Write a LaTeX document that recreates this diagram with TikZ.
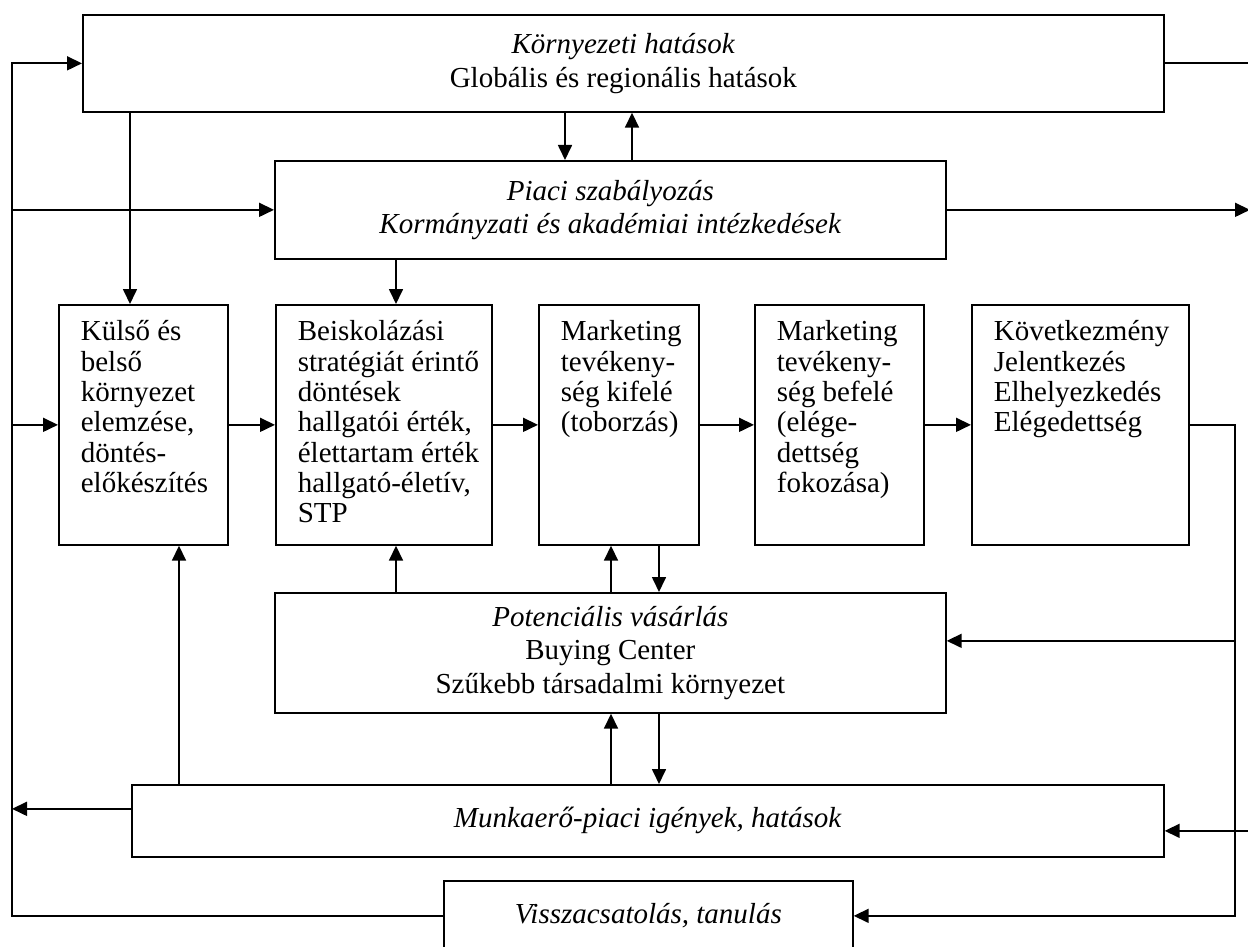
\documentclass[tikz,border=0pt]{standalone}
\usepackage{fontspec}
\setmainfont{Liberation Serif}
\usetikzlibrary{arrows.meta}
\newcommand{\midtext}[2]{\parbox[c][240pt][t]{#1}{\fontsize{29}{30.3}\selectfont\parindent=0pt\leftskip=22pt\rightskip=0pt plus 1fil\rule{0pt}{36pt}#2}}
\begin{document}
\begin{tikzpicture}[x=1pt,y=-1pt,
  box/.style={draw, line width=1.7pt, inner sep=0pt, anchor=north west},
  ctext/.style={align=center, font=\fontsize{29}{33.5}\selectfont},
  arr/.style={line width=1.7pt, -{Triangle[length=15pt,width=14pt]}},
  ln/.style={line width=1.7pt}]
\useasboundingbox (0,0) rectangle (1248,947);
\clip (0,0) rectangle (1248,947);

% boxes
\node[box, ctext, minimum width=1081pt, minimum height=97pt] (env) at (82,14)
  {\textit{Környezeti hatások}\\Globális és regionális hatások};
\node[box, ctext, minimum width=671pt, minimum height=98pt] (piaci) at (274,160)
  {\textit{Piaci szabályozás}\\\textit{Kormányzati és akadémiai intézkedések}};
\node[box] (kulso) at (58,304) {\midtext{169pt}{Külső és\\belső\\környezet\\elemzése,\\döntés-\\előkészítés}};
\node[box] (beisk) at (275,304) {\midtext{216pt}{Beiskolázási\\stratégiát érintő\\döntések\\hallgatói érték,\\élettartam érték\\hallgató-életív,\\STP}};
\node[box] (kifele) at (538,304) {\midtext{160pt}{Marketing\\tevékeny-\\ség kifelé\\(toborzás)}};
\node[box] (befele) at (754,304) {\midtext{169pt}{Marketing\\tevékeny-\\ség befelé\\(elége-\\dettség\\fokozása)}};
\node[box] (kovet) at (971,304) {\midtext{217pt}{Következmény\\Jelentkezés\\Elhelyezkedés\\Elégedettség}};
\node[box, ctext, minimum width=671pt, minimum height=120pt] (pot) at (274,592)
  {\textit{Potenciális vásárlás}\\Buying Center\\Szűkebb társadalmi környezet};
\node[box, ctext, minimum width=1032pt, minimum height=72pt] (munka) at (131,784)
  {\textit{Munkaerő-piaci igények, hatások}};
\node[box, ctext, minimum width=409pt, minimum height=70pt] (visz) at (443,880)
  {\textit{Visszacsatolás, tanulás}};

% helper coordinates
\coordinate (L) at (12,0);
\coordinate (R) at (1235,0);
\coordinate (RR) at (1252,0);
\coordinate (RT) at (1250,0);
\coordinate (a1) at (130,0);
\coordinate (a2) at (396,0);
\coordinate (a3) at (565,0);
\coordinate (a4) at (632,0);
\coordinate (a5) at (611,0);
\coordinate (a6) at (659,0);
\coordinate (a7) at (179,0);
\coordinate (mw) at ([yshift=12pt]munka.west);
\coordinate (me) at ([yshift=-10pt]munka.east);
\coordinate (pe) at ([yshift=12pt]pot.east);

% left feedback loop
\draw[arr] (visz.west) -| (L |- env.west) -- (env.west);
\draw[arr] (L |- piaci.west) -- (piaci.west);
\draw[arr] (L |- kulso.west) -- (kulso.west);
\draw[arr] (mw) -- (L |- mw);

% right side
\draw[arr] (kovet.east) -| (R |- visz.east) -- (visz.east);
\draw[arr] (R |- pe) -- (pe);
\draw[arr] (RR |- me) -- (me);
\draw[ln] (env.east) -- (RR |- env.east);
\draw[arr] (piaci.east) -- (RT |- piaci.east);

% vertical arrows
\draw[arr] (env.south -| a1) -- (kulso.north -| a1);
\draw[arr] (env.south -| a3) -- (piaci.north -| a3);
\draw[arr] (piaci.north -| a4) -- (env.south -| a4);
\draw[arr] (piaci.south -| a2) -- (beisk.north -| a2);
\draw[arr] (pot.north -| a2) -- (beisk.south -| a2);
\draw[arr] (pot.north -| a5) -- (kifele.south -| a5);
\draw[arr] (kifele.south -| a6) -- (pot.north -| a6);
\draw[arr] (munka.north -| a5) -- (pot.south -| a5);
\draw[arr] (pot.south -| a6) -- (munka.north -| a6);
\draw[arr] (munka.north -| a7) -- (kulso.south -| a7);

% middle row
\draw[arr] (kulso.east) -- (beisk.west);
\draw[arr] (beisk.east) -- (kifele.west);
\draw[arr] (kifele.east) -- (befele.west);
\draw[arr] (befele.east) -- (kovet.west);
\end{tikzpicture}
\end{document}
